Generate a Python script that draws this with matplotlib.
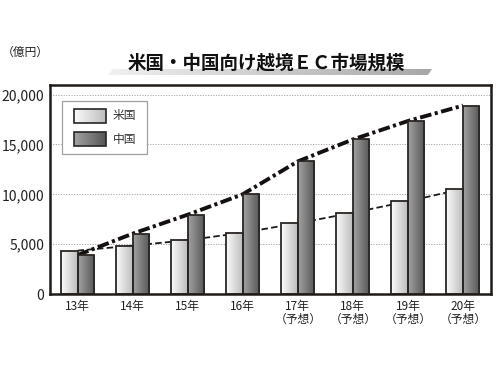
import numpy as np
import matplotlib
matplotlib.use("Agg")
import matplotlib.pyplot as plt
from matplotlib.colors import LinearSegmentedColormap
from matplotlib.patches import Polygon, Rectangle

plt.rcParams["font.family"] = ["Noto Sans CJK JP", "DejaVu Sans"]

# ---------------------------------------------------------------------------
# data (億円)
# ---------------------------------------------------------------------------
years = ["13年", "14年", "15年", "16年", "17年\n（予想）", "18年\n（予想）", "19年\n（予想）", "20年\n（予想）"]
series_names = ["米国", "中国"]
us_values = [4350, 4850, 5400, 6150, 7100, 8150, 9300, 10550]
cn_values = [3900, 6050, 7950, 10000, 13300, 15500, 17350, 18900]
y_ticks = [0, 5000, 10000, 15000, 20000]

title = "米国・中国向け越境ＥＣ市場規模"
unit_label = "（億円）"

US_GRAD = ("#fbfbfb", "#bdbdbd")
CN_GRAD = ("#a2a2a2", "#565656")
EDGE = "#2a2522"

fig = plt.figure(figsize=(5, 3.75), dpi=100)
ax = fig.add_axes([0.1, 0.216, 0.881, 0.557])


def gradient_fill(target_ax, patch, colors, zorder):
    cmap = LinearSegmentedColormap.from_list("g", list(colors))
    grad = np.linspace(0, 1, 64).reshape(1, -1)
    x0, y0 = patch.get_x(), patch.get_y()
    im = target_ax.imshow(grad, extent=[x0, x0 + patch.get_width(), y0, y0 + patch.get_height()],
                          aspect="auto", cmap=cmap, zorder=zorder, interpolation="bilinear")
    im.set_clip_path(patch)


x = np.arange(len(years))
w = 0.3

# trend lines behind the bars
ax.plot(x, us_values, color="#1a1a1a", lw=1.3, dashes=[3.6, 1.8], zorder=1)
ax.plot(x, cn_values, color="#151010", lw=2.8, dashes=[3.0, 0.9, 0.8, 0.9], zorder=1)

us_bars = ax.bar(x - w / 2, us_values, w, facecolor="none", edgecolor=EDGE, lw=1.3, zorder=3)
cn_bars = ax.bar(x + w / 2, cn_values, w, facecolor="none", edgecolor=EDGE, lw=1.3, zorder=3)
for b in us_bars:
    gradient_fill(ax, b, US_GRAD, 2)
for b in cn_bars:
    gradient_fill(ax, b, CN_GRAD, 2)

ax.set_xlim(-0.5, len(years) - 0.5)
ax.set_ylim(0, 20950)
ax.set_yticks(y_ticks)
ax.set_yticklabels([f"{v:,}" for v in y_ticks], fontsize=10, color="#222")
ax.set_xticks(x)
ax.set_xticklabels(years, fontsize=8.5, color="#222", linespacing=1.0)
ax.tick_params(length=0, pad=4)
for v in y_ticks[1:]:
    ax.axhline(v, color="#a5a5a5", lw=0.7, ls=(0, (1.2, 1.5)), zorder=0)
for side in ax.spines.values():
    side.set_linewidth(1.8)
    side.set_color("#1e1a18")

# ---------------------------------------------------------------------------
# overlay in pixel coordinates: title band, unit label, legend
# ---------------------------------------------------------------------------
ov = fig.add_axes([0, 0, 1, 1], zorder=5)
ov.axis("off")

band = Polygon([(108, 75), (113, 69), (432, 69), (428, 75)], closed=True,
               facecolor="none", edgecolor="none")
ov.add_patch(band)
band_cmap = LinearSegmentedColormap.from_list("band", ["#f0f0f0", "#a8a8a8"])
band_im = ov.imshow(np.linspace(0, 1, 64).reshape(1, -1), extent=[108, 432, 75, 69],
                    aspect="auto", cmap=band_cmap, interpolation="bilinear", zorder=1)
band_im.set_clip_path(band)

ov.text(266, 63, title, ha="center", va="center", fontsize=13.3,
        fontweight="bold", color="#111", zorder=3)
ov.text(25, 52, unit_label, ha="center", va="center", fontsize=8.5, color="#222")

ov.add_patch(Rectangle((62, 101), 85, 53, facecolor="white", edgecolor="#a0a0a0", lw=0.9, zorder=1))
for i, (name, cols) in enumerate(zip(series_names, [US_GRAD, CN_GRAD])):
    top = 109 + i * 23
    r = Rectangle((74, top), 32, 14, facecolor="none", edgecolor=EDGE, lw=1.2, zorder=3)
    ov.add_patch(r)
    im = ov.imshow(np.linspace(0, 1, 64).reshape(1, -1), extent=[74, 106, top + 14, top],
                   aspect="auto", cmap=LinearSegmentedColormap.from_list("l", list(cols)),
                   interpolation="bilinear", zorder=2)
    im.set_clip_path(r)
    ov.text(113, top + 7, name, ha="left", va="center", fontsize=8.5, color="#333", zorder=3)
ov.set_xlim(0, 500)
ov.set_ylim(375, 0)

fig.savefig("out.png", dpi=100)
